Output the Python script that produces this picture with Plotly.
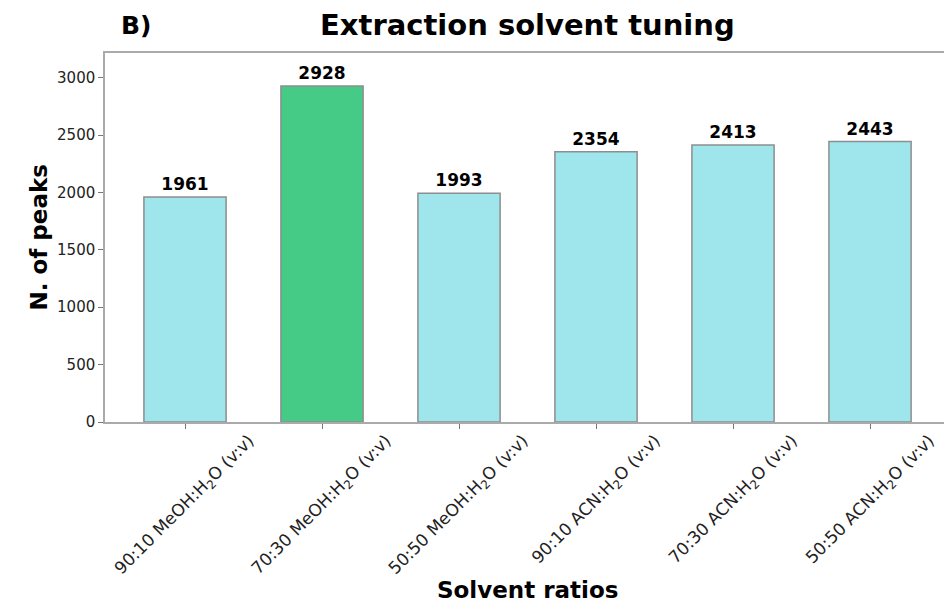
import plotly.graph_objects as go

solvents = ['90:10 MeOH:H<sub>2</sub>O (v:v)', '70:30 MeOH:H<sub>2</sub>O (v:v)',
            '50:50 MeOH:H<sub>2</sub>O (v:v)', '90:10 ACN:H<sub>2</sub>O (v:v)',
            '70:30 ACN:H<sub>2</sub>O (v:v)', '50:50 ACN:H<sub>2</sub>O (v:v)']
n_peaks = [1961, 2928, 1993, 2354, 2413, 2443]
y_ticks = [0, 500, 1000, 1500, 2000, 2500, 3000]
best = 1

colors = ['#46cb86' if i == best else '#9ee5ec' for i in range(len(solvents))]
x_pos = list(range(len(solvents)))

# page body adds 8px margins, so keep the figure inside 952x616
fig = go.Figure()
fig.add_trace(go.Bar(
    x=x_pos, y=n_peaks, width=0.6,
    marker=dict(color=colors, line=dict(color='#8e8e8e', width=1.5)),
    text=[str(v) for v in n_peaks], textposition='outside',
    textfont=dict(family='DejaVu Sans', size=17, color='black', weight='bold'),
    cliponaxis=False,
))

fig.update_layout(
    width=936, height=600,
    paper_bgcolor='white', plot_bgcolor='white',
    margin=dict(l=97, r=0, t=45, b=186, autoexpand=False),
    font=dict(family='DejaVu Sans', color='black'),
    showlegend=False,
    xaxis=dict(
        range=[-0.584, 5.54], tickvals=x_pos, showticklabels=False,
        ticks='outside', ticklen=5, tickcolor='#777',
        showline=True, linecolor='#aaaaaa', linewidth=1.5, mirror=True,
        showgrid=False, zeroline=False,
    ),
    yaxis=dict(
        range=[0, 3215], tickvals=y_ticks,
        tickfont=dict(size=15, color='#222'),
        ticks='outside', ticklen=5, tickcolor='#777',
        showline=True, linecolor='#aaaaaa', linewidth=1.5, mirror=True,
        showgrid=False, zeroline=False,
    ),
)

# rotated category labels, centred under each tick
for i, s in enumerate(solvents):
    fig.add_annotation(text=s, x=i, xref='x', y=0, yref='y', yshift=-6,
                       xanchor='center', yanchor='top', textangle=-45,
                       showarrow=False, font=dict(size=17, color='#222'))

fig.add_annotation(text='<b>Solvent ratios</b>', xref='paper', yref='paper',
                   x=0.503, y=0.0, yshift=-168, xanchor='center', yanchor='middle',
                   showarrow=False, borderpad=0, font=dict(size=23))
fig.add_annotation(text='<b>N. of peaks</b>', xref='paper', yref='paper',
                   x=-0.0787, y=0.5, xanchor='center', yanchor='middle',
                   textangle=-90, showarrow=False, font=dict(size=23))
fig.add_annotation(text='<b>Extraction solvent tuning</b>', xref='paper', yref='paper',
                   x=0.503, y=1.0, yshift=28, xanchor='center', yanchor='middle',
                   showarrow=False, borderpad=0, font=dict(size=29))
fig.add_annotation(text='<b>B)</b>', xref='paper', yref='paper',
                   x=0.0, xshift=14, y=1.0, yshift=28, xanchor='left', yanchor='middle',
                   showarrow=False, font=dict(size=25))

fig.write_html("out.html")
